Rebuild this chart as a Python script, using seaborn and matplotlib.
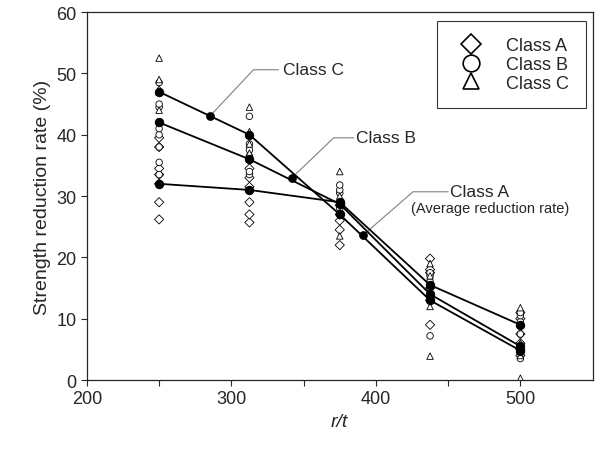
import numpy as np
import pandas as pd
import matplotlib
matplotlib.use("Agg")
import matplotlib.pyplot as plt
import seaborn as sns
from matplotlib.lines import Line2D

# =============================================================================
# DATA
# =============================================================================
rt_levels = [250, 312.5, 375, 437.5, 500]

class_a_pts = {
    250: [26.2, 29, 32, 33.5, 34.5, 38, 39.5],
    312.5: [25.7, 27, 29, 31.5, 33, 34.5],
    375: [22, 24.5, 26, 27, 28.5],
    437.5: [9, 13, 15, 17.5, 18, 19.8],
    500: [4, 5, 6, 7.5, 10, 11],
}
class_b_pts = {
    250: [33.5, 35.5, 38, 40, 41, 44.5, 45, 48.5],
    312.5: [33.5, 34, 36.5, 37.5, 38.5, 43],
    375: [28, 29, 30.5, 31, 31.8],
    437.5: [7.2, 13.5, 15, 16, 17, 17.5],
    500: [3.5, 4.5, 7.5, 9.5, 10.5, 11],
}
class_c_pts = {
    250: [44, 47, 47.5, 49, 52.5],
    312.5: [37, 38.5, 40.5, 44.5],
    375: [23.5, 27.5, 30, 34],
    437.5: [3.9, 12, 14, 17, 19],
    500: [0.3, 4, 6, 11.8],
}

mean_a = [32, 31, 29, 15.5, 9]
mean_b = [42, 36, 28.7, 14, 5.5]
mean_c = [47, 40, 27, 13, 4.8]

classes = ["Class A", "Class B", "Class C"]
markers = {"Class A": "D", "Class B": "o", "Class C": "^"}

# annotation dots (A, B, C)
ann_x = [391, 342, 285]
ann_y = [23.6, 33, 43]

# =============================================================================
# TABLES
# =============================================================================
rows = []
for name, pts in zip(classes, [class_a_pts, class_b_pts, class_c_pts]):
    for rt, vals in pts.items():
        for v in vals:
            rows.append({"rt": rt, "rate": v, "cls": name})
df_pts = pd.DataFrame(rows)

df_mean = pd.DataFrame({
    "rt": rt_levels * 3,
    "rate": mean_a + mean_b + mean_c,
    "cls": np.repeat(classes, len(rt_levels)),
})

# =============================================================================
# PLOT
# =============================================================================
sns.set_style("ticks")
plt.rcParams["font.family"] = ["Liberation Sans", "DejaVu Sans"]

fig = plt.figure(figsize=(5.95, 4.52), dpi=100)
ax = fig.add_axes([0.146, 0.157, 0.85, 0.814])

sns.scatterplot(data=df_pts, x="rt", y="rate", style="cls", markers=markers,
                s=22, facecolor="white", edgecolor="black", linewidth=0.6,
                legend=False, ax=ax, zorder=2)

sns.lineplot(data=df_mean, x="rt", y="rate", units="cls", estimator=None,
             color="black", linewidth=1.3, marker="o", markersize=6,
             markeredgecolor="black", markerfacecolor="black",
             legend=False, ax=ax, zorder=3)

# annotation dots
ax.scatter(ann_x, ann_y, s=28, color="black", zorder=4)

# leader lines
gray = "#808080"
ax.plot([ann_x[2], 315.3, 332.6], [ann_y[2], 50.6, 50.6], color=gray, lw=0.8)
ax.text(335.5, 50.6, "Class C", fontsize=12.5, va="center")
ax.plot([ann_x[1], 370.8, 384.7], [ann_y[1], 39.5, 39.5], color=gray, lw=0.8)
ax.text(386.5, 39.5, "Class B", fontsize=12.5, va="center")
ax.plot([ann_x[0], 425.7, 450], [ann_y[0], 30.7, 30.7], color=gray, lw=0.8)
ax.text(451.5, 30.7, "Class A", fontsize=12.5, va="center")
ax.text(424.5, 28.0, "(Average reduction rate)", fontsize=10.5, va="center")

ax.set_xlim(200, 550)
ax.set_ylim(0, 60)
ax.set_xticks([200, 300, 400, 500])
ax.set_xticks([250, 350, 450], minor=True)
ax.set_yticks(range(0, 61, 10))
ax.tick_params(axis="both", labelsize=13, direction="out", length=4, width=0.8)
ax.tick_params(axis="x", which="minor", length=4, width=0.8)
for sp in ax.spines.values():
    sp.set_linewidth(0.9)

ax.set_xlabel("r/t", fontsize=14, fontstyle="italic")
ax.set_ylabel("Strength reduction rate (%)", fontsize=14)

handles = [Line2D([], [], linestyle="none", marker=markers[c], markersize=12 if c != "Class A" else 10,
                  markerfacecolor="white", markeredgecolor="black", markeredgewidth=1.2)
           for c in classes]
leg = ax.legend(handles, classes, loc="upper right", fontsize=13, frameon=True,
                fancybox=False, edgecolor="black", borderpad=0.9, handletextpad=0.95,
                labelspacing=0.1, borderaxespad=0, bbox_to_anchor=(0.986, 0.976))
leg.get_frame().set_linewidth(0.8)

fig.savefig("out.png", dpi=100)
